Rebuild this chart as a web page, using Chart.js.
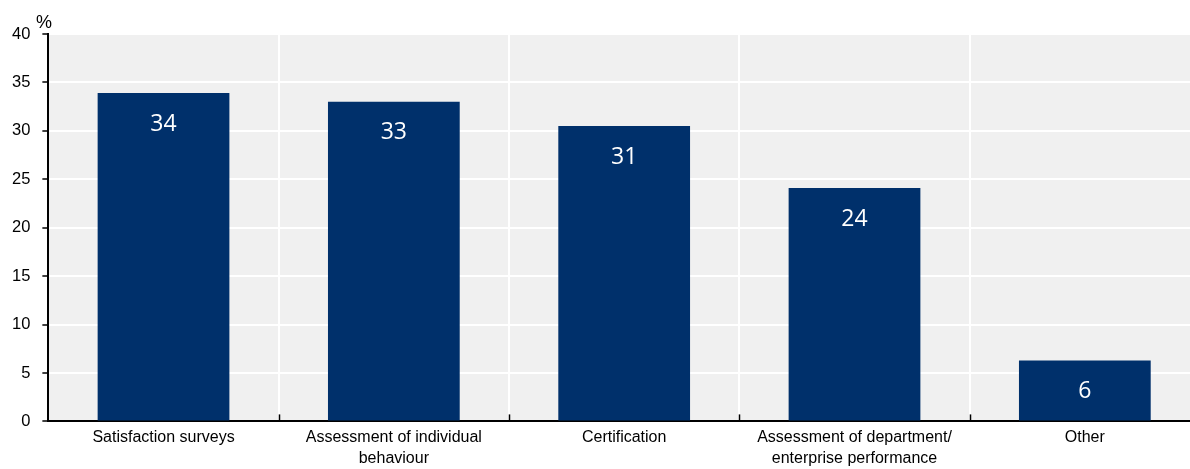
<!DOCTYPE html>
<html>
<head>
<meta charset="utf-8">
<script src="https://cdn.jsdelivr.net/npm/chart.js@4/dist/chart.umd.min.js"></script>
<style>
  html,body{margin:0;padding:0;background:#fff;overflow:hidden;}
  #wrap{position:relative;width:1200px;height:475px;}
</style>
</head>
<body>
<div id="wrap"><canvas id="c"></canvas></div>
<script>
// ── Data ──
const categories=['Satisfaction surveys',['Assessment of individual','behaviour'],'Certification',
  ['Assessment of department/','enterprise performance'],'Other'];
const shares=[33.9,33.0,30.5,24.1,6.3];
const yTicks=[0,5,10,15,20,25,30,35,40];

const NAVY='#00306b', PANEL='#f0f0f0';
const AXFONT="'Liberation Sans',Arial,sans-serif";

// ── Plugins: panel background, inner category ticks, value labels, unit ──
const decor={
  id:'decor',
  beforeDraw(ch){
    const a=ch.chartArea,g=ch.ctx;
    g.save();g.fillStyle=PANEL;
    g.fillRect(a.left,a.top,a.right-a.left,a.bottom-a.top);
    g.restore();
  },
  afterDraw(ch){
    const g=ch.ctx,a=ch.chartArea,x=ch.scales.x;
    g.save();
    // short upward ticks between categories
    g.strokeStyle='#000';g.lineWidth=1.5;
    const half=(x.getPixelForValue(1)-x.getPixelForValue(0))/2;
    for(let i=0;i<categories.length-1;i++){
      const px=Math.round(x.getPixelForValue(i)+half)+0.5;
      g.beginPath();g.moveTo(px,a.bottom);g.lineTo(px,a.bottom-7);g.stroke();
    }
    // values inside bars
    g.fillStyle='#fff';g.font="23px 'Open Sans',sans-serif";
    g.textAlign='center';g.textBaseline='middle';
    ch.getDatasetMeta(0).data.forEach((bar,i)=>{
      g.fillText(String(Math.round(shares[i])),bar.x,bar.y+31);
    });
    // unit
    g.fillStyle='#000';g.font='18px '+AXFONT;g.textAlign='left';g.textBaseline='alphabetic';
    g.fillText('%',36,28);
    g.restore();
  }
};

new Chart(document.getElementById('c'),{
  type:'bar',
  data:{labels:categories,datasets:[{data:shares,backgroundColor:NAVY,borderWidth:0,
    barPercentage:0.572,categoryPercentage:1}]},
  options:{
    responsive:true,maintainAspectRatio:false,animation:false,
    layout:{padding:{top:34,left:0,right:0,bottom:0}},
    plugins:{legend:{display:false},tooltip:{enabled:false}},
    scales:{
      x:{
        grid:{offset:true,color:'#fff',lineWidth:2,drawTicks:false},
        border:{display:true,color:'#000',width:2},
        ticks:{color:'#000',font:{family:AXFONT,size:16,lineHeight:1.3},padding:6,maxRotation:0,autoSkip:false}
      },
      y:{
        min:0,max:40,afterBuildTicks(s){s.ticks=yTicks.map(v=>({value:v}));},
        grid:{color:'#fff',lineWidth:2,tickColor:'#000',tickLength:6,tickWidth:1.5},
        border:{display:true,color:'#000',width:2},
        ticks:{color:'#000',font:{family:AXFONT,size:16.5},padding:12}
      }
    }
  },
  plugins:[decor]
});
</script>
</body>
</html>
